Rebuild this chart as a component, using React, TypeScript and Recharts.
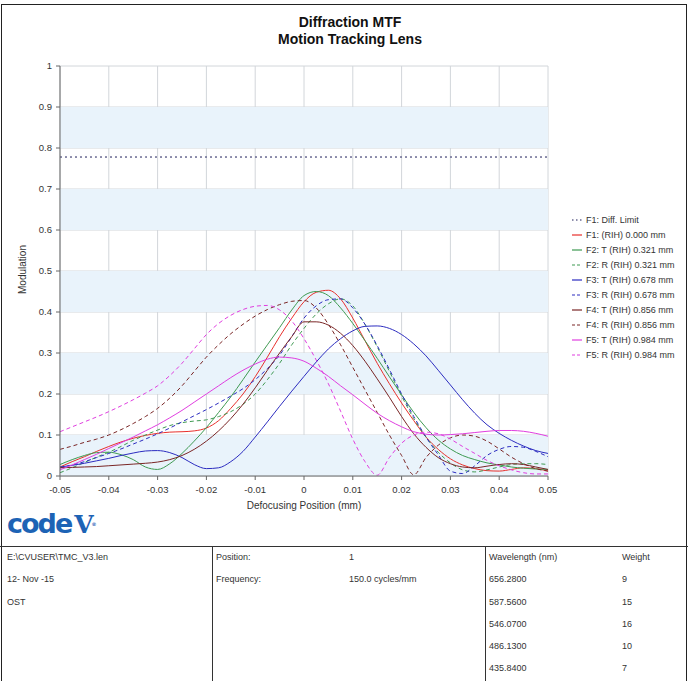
import React from 'react';
import {
  CartesianGrid,
  Line,
  LineChart,
  ReferenceArea,
  XAxis,
  YAxis,
} from 'recharts';

// Diffraction MTF vs defocus (150 cycles/mm).
const xs = [
  -0.05, -0.0475, -0.045, -0.0425, -0.04, -0.0375, -0.035, -0.0325, -0.03, -0.0275,
  -0.025, -0.0225, -0.02, -0.0175, -0.015, -0.0125, -0.01, -0.0075, -0.005, -0.0025,
  0, 0.0025, 0.005, 0.0075, 0.01, 0.0125, 0.015, 0.0175, 0.02, 0.0225,
  0.025, 0.0275, 0.03, 0.0325, 0.035, 0.0375, 0.04, 0.0425, 0.045, 0.0475, 0.05,
];

const diffLimit = 0.778;

const f1 = [
  0.022, 0.035, 0.047, 0.06, 0.072, 0.083, 0.092, 0.099, 0.104, 0.107,
  0.108, 0.11, 0.117, 0.135, 0.165, 0.2, 0.242, 0.29, 0.34, 0.385,
  0.425, 0.448, 0.453, 0.432, 0.385, 0.33, 0.275, 0.225, 0.178, 0.135,
  0.095, 0.065, 0.042, 0.027, 0.018, 0.013, 0.012, 0.016, 0.02, 0.018, 0.012,
];
const f2T = [
  0.028, 0.04, 0.05, 0.057, 0.058, 0.052, 0.04, 0.022, 0.016, 0.03,
  0.055, 0.085, 0.118, 0.155, 0.193, 0.235, 0.278, 0.32, 0.362, 0.405,
  0.44, 0.45, 0.44, 0.41, 0.372, 0.33, 0.287, 0.242, 0.198, 0.155,
  0.118, 0.088, 0.066, 0.05, 0.04, 0.032, 0.027, 0.022, 0.019, 0.017, 0.016,
];
const f2R = [
  0.008, 0.02, 0.033, 0.046, 0.058, 0.072, 0.087, 0.1, 0.112, 0.123,
  0.13, 0.134, 0.137, 0.145, 0.157, 0.175, 0.2, 0.235, 0.275, 0.32,
  0.36, 0.395, 0.42, 0.432, 0.415, 0.37, 0.315, 0.255, 0.195, 0.14,
  0.095, 0.058, 0.032, 0.015, 0.01, 0.015, 0.022, 0.028, 0.03, 0.03, 0.028,
];
const f3T = [
  0.022, 0.026, 0.031, 0.037, 0.043, 0.05, 0.056, 0.061, 0.062, 0.057,
  0.045, 0.028, 0.018, 0.02, 0.035, 0.06, 0.095, 0.132, 0.17, 0.207,
  0.243, 0.278, 0.31, 0.335, 0.354, 0.365, 0.366, 0.36, 0.345, 0.322,
  0.293, 0.258, 0.222, 0.186, 0.153, 0.125, 0.104, 0.087, 0.073, 0.062, 0.055,
];
const f3R = [
  0.02, 0.027, 0.035, 0.045, 0.055, 0.066, 0.078, 0.09, 0.103, 0.117,
  0.132, 0.147, 0.162, 0.178, 0.195, 0.213, 0.235, 0.262, 0.295, 0.34,
  0.385, 0.415, 0.43, 0.432, 0.41, 0.37, 0.318, 0.26, 0.2, 0.145,
  0.095, 0.052, 0.012, 0.006, 0.025, 0.05, 0.065, 0.072, 0.07, 0.06, 0.047,
];
const f4T = [
  0.02, 0.021, 0.022, 0.023, 0.025, 0.027, 0.029, 0.031, 0.034, 0.04,
  0.05, 0.065, 0.085, 0.11, 0.14, 0.175, 0.215, 0.258, 0.3, 0.34,
  0.376, 0.376, 0.368, 0.348, 0.318, 0.28, 0.237, 0.192, 0.145, 0.103,
  0.07, 0.045, 0.03, 0.022, 0.02, 0.024, 0.028, 0.03, 0.028, 0.022, 0.016,
];
const f4R = [
  0.065, 0.073, 0.082, 0.09, 0.1, 0.113, 0.128, 0.145, 0.165, 0.19,
  0.22, 0.255, 0.29, 0.32, 0.347, 0.37, 0.39, 0.406, 0.418, 0.426,
  0.428, 0.41, 0.37, 0.32, 0.265, 0.21, 0.155, 0.1, 0.05, 0.003,
  0.045, 0.075, 0.093, 0.1, 0.097, 0.085, 0.066, 0.046, 0.03, 0.018, 0.012,
];
const f5T = [
  0.015, 0.027, 0.04, 0.053, 0.067, 0.081, 0.095, 0.11, 0.125, 0.142,
  0.16, 0.18, 0.2, 0.22, 0.24, 0.258, 0.273, 0.285, 0.29, 0.288,
  0.28, 0.263, 0.243, 0.22, 0.198, 0.175, 0.153, 0.135, 0.12, 0.108,
  0.102, 0.1, 0.101, 0.103, 0.106, 0.109, 0.111, 0.111, 0.109, 0.104, 0.097,
];
const f5R = [
  0.108, 0.12, 0.132, 0.144, 0.157, 0.171, 0.186, 0.202, 0.22, 0.245,
  0.275, 0.31, 0.345, 0.372, 0.392, 0.406, 0.414, 0.416, 0.405, 0.378,
  0.335, 0.283, 0.225, 0.158, 0.09, 0.035, 0.002, 0.045, 0.08, 0.1,
  0.107, 0.103, 0.09, 0.072, 0.055, 0.038, 0.025, 0.015, 0.008, 0.005, 0.005,
];

const xTicks = [-0.05, -0.04, -0.03, -0.02, -0.01, 0, 0.01, 0.02, 0.03, 0.04, 0.05];
const yTicks = [0, 0.1, 0.2, 0.3, 0.4, 0.5, 0.6, 0.7, 0.8, 0.9, 1];
const bands = [
  [0, 0.1],
  [0.2, 0.3],
  [0.4, 0.5],
  [0.6, 0.7],
  [0.8, 0.9],
];

const SERIES = [
  { key: 'diff', name: 'F1: Diff. Limit', color: '#1e1e5a', dash: '2 3' },
  { key: 'f1', name: 'F1: (RIH) 0.000 mm', color: '#e8302c', dash: undefined },
  { key: 'f2T', name: 'F2: T (RIH) 0.321 mm', color: '#3f9a52', dash: undefined },
  { key: 'f2R', name: 'F2: R (RIH) 0.321 mm', color: '#3f9a52', dash: '4 3' },
  { key: 'f3T', name: 'F3: T (RIH) 0.678 mm', color: '#2c2cc0', dash: undefined },
  { key: 'f3R', name: 'F3: R (RIH) 0.678 mm', color: '#2c2cc0', dash: '4 3' },
  { key: 'f4T', name: 'F4: T (RIH) 0.856 mm', color: '#7a2626', dash: undefined },
  { key: 'f4R', name: 'F4: R (RIH) 0.856 mm', color: '#7a2626', dash: '4 3' },
  { key: 'f5T', name: 'F5: T (RIH) 0.984 mm', color: '#e03ee0', dash: undefined },
  { key: 'f5R', name: 'F5: R (RIH) 0.984 mm', color: '#e03ee0', dash: '4 3' },
];

const data = xs.map((x, i) => ({
  x,
  diff: diffLimit,
  f1: f1[i],
  f2T: f2T[i],
  f2R: f2R[i],
  f3T: f3T[i],
  f3R: f3R[i],
  f4T: f4T[i],
  f4R: f4R[i],
  f5T: f5T[i],
  f5R: f5R[i],
}));

const FONT = '"Liberation Sans", Arial, sans-serif';
const tickStyle = { fontSize: 9.5, fill: '#333', fontFamily: FONT };

function LegendBox() {
  return (
    <div
      style={{
        position: 'absolute',
        left: 571,
        top: 212,
        fontFamily: FONT,
        fontSize: 9,
        color: '#333',
      }}
    >
      {SERIES.map((s) => (
        <div key={s.key} style={{ display: 'flex', alignItems: 'center', height: 15.1 }}>
          <svg width={12} height={6} style={{ marginRight: 3 }}>
            <line
              x1={1}
              y1={3}
              x2={11}
              y2={3}
              stroke={s.color}
              strokeWidth={1.2}
              strokeDasharray={s.key === 'diff' ? '1.5 2.5' : s.dash ? '3 2' : undefined}
            />
          </svg>
          <span style={{ whiteSpace: 'nowrap' }}>{s.name}</span>
        </div>
      ))}
    </div>
  );
}

const cellText: React.CSSProperties = {
  position: 'absolute',
  fontFamily: FONT,
  fontSize: 9,
  color: '#333',
  whiteSpace: 'nowrap',
};

const col1 = ['E:\\CVUSER\\TMC_V3.len', '12- Nov -15', 'OST'];
const col2Labels = ['Position:', 'Frequency:'];
const col2Values = ['1', '150.0 cycles/mm'];
const wavelengths = ['Wavelength (nm)', '656.2800', '587.5600', '546.0700', '486.1300', '435.8400'];
const weights = ['Weight', '9', '15', '16', '10', '7'];
const rowY = [552, 574, 597, 619, 641, 663];

export default function App() {
  return (
    <div
      style={{
        position: 'absolute',
        left: 0,
        top: 0,
        width: 688,
        height: 681,
        background: '#fff',
        overflow: 'hidden',
      }}
    >
      {/* outer frame */}
      <div
        style={{
          position: 'absolute',
          left: 1,
          top: 4,
          width: 686,
          height: 690,
          border: '1px solid #222',
          boxSizing: 'border-box',
        }}
      />

      <div
        style={{
          position: 'absolute',
          left: 0,
          top: 14,
          width: 700,
          textAlign: 'center',
          fontFamily: FONT,
          fontWeight: 'bold',
          fontSize: 14,
          lineHeight: '17px',
          color: '#111',
        }}
      >
        Diffraction MTF
        <br />
        Motion Tracking Lens
      </div>

      <div
        style={{
          position: 'absolute',
          left: 22 - 40,
          top: 264,
          width: 80,
          textAlign: 'center',
          transform: 'rotate(-90deg)',
          fontFamily: FONT,
          fontSize: 10,
          color: '#333',
        }}
      >
        Modulation
      </div>

      <div style={{ position: 'absolute', left: 0, top: 0 }}>
        <LineChart
          width={688}
          height={520}
          data={data}
          margin={{ top: 66, right: 140, bottom: 4, left: 10 }}
        >
          {bands.map(([a, b]) => (
            <ReferenceArea
              key={a}
              y1={a}
              y2={b}
              fill="#e9f3fb"
              fillOpacity={1}
              stroke="none"
              ifOverflow="visible"
            />
          ))}
          <CartesianGrid stroke="#d2d6da" strokeWidth={1} />
          <XAxis
            dataKey="x"
            type="number"
            domain={[-0.05, 0.05]}
            ticks={xTicks}
            tickFormatter={(v: number) => (Math.abs(v) < 1e-9 ? '0' : v.toFixed(2))}
            tick={tickStyle}
            stroke="#666"
            tickLine={{ stroke: '#666' }}
            tickSize={4}
            tickMargin={6}
            height={40}
            interval={0}
            allowDataOverflow
          />
          <YAxis
            type="number"
            domain={[0, 1]}
            ticks={yTicks}
            tickFormatter={(v: number) => (v === 0 || v === 1 ? String(v) : v.toFixed(1))}
            tick={tickStyle}
            stroke="#666"
            tickLine={{ stroke: '#666' }}
            tickSize={4}
            tickMargin={4}
            width={50}
            interval={0}
          />
          {SERIES.map((s) => (
            <Line
              key={s.key}
              dataKey={s.key}
              name={s.name}
              type="monotone"
              stroke={s.color}
              strokeWidth={1}
              strokeDasharray={s.dash}
              dot={false}
              activeDot={false}
              isAnimationActive={false}
            />
          ))}
        </LineChart>
      </div>

      <LegendBox />

      <div
        style={{
          position: 'absolute',
          left: 0,
          top: 500,
          width: 608,
          textAlign: 'center',
          fontFamily: FONT,
          fontSize: 10,
          color: '#333',
        }}
      >
        Defocusing Position (mm)
      </div>

      {/* logo */}
      <div
        style={{
          position: 'absolute',
          left: 7,
          top: 508,
          fontFamily: '"DejaVu Sans", sans-serif',
          fontWeight: 900,
          fontSize: 27,
          letterSpacing: -2,
          color: '#1d63b5',
          lineHeight: '32px',
        }}
      >
        code
        <span style={{ fontFamily: '"DejaVu Serif", serif', fontSize: 25, marginLeft: 3 }}>V</span>
        <span style={{ fontSize: 5, verticalAlign: 'top' }}>®</span>
      </div>

      {/* info table */}
      <div style={{ position: 'absolute', left: 0, top: 546, width: 688, height: 1, background: '#333' }} />
      <div style={{ position: 'absolute', left: 212, top: 546, width: 1, height: 140, background: '#333' }} />
      <div style={{ position: 'absolute', left: 485, top: 546, width: 1, height: 140, background: '#333' }} />

      {col1.map((t, i) => (
        <div key={t} style={{ ...cellText, left: 7, top: rowY[i] }}>
          {t}
        </div>
      ))}
      {col2Labels.map((t, i) => (
        <div key={t} style={{ ...cellText, left: 216, top: rowY[i] }}>
          {t}
        </div>
      ))}
      {col2Values.map((t, i) => (
        <div key={t} style={{ ...cellText, left: 349, top: rowY[i] }}>
          {t}
        </div>
      ))}
      {wavelengths.map((t, i) => (
        <div key={t} style={{ ...cellText, left: 489, top: rowY[i] }}>
          {t}
        </div>
      ))}
      {weights.map((t, i) => (
        <div key={t + i} style={{ ...cellText, left: 622, top: rowY[i] }}>
          {t}
        </div>
      ))}
    </div>
  );
}
